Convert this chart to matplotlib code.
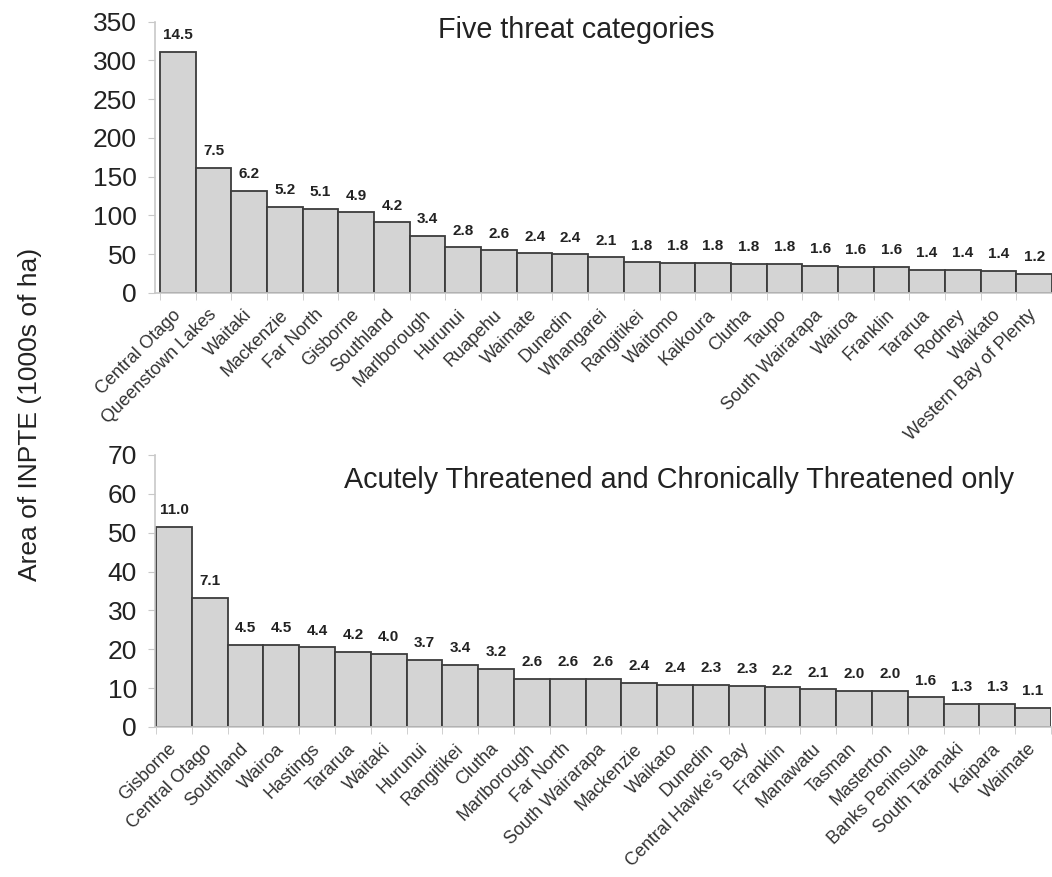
import matplotlib.pyplot as plt
import matplotlib.transforms as mtransforms
import numpy as np

# 字体：类 Arial
plt.rcParams['font.family'] = ['Liberation Sans', 'DejaVu Sans']

# 上图：五个威胁类别
top_names = ['Central Otago', 'Queenstown Lakes', 'Waitaki', 'Mackenzie', 'Far North',
             'Gisborne', 'Southland', 'Marlborough', 'Hurunui', 'Ruapehu', 'Waimate',
             'Dunedin', 'Whangarei', 'Rangitikei', 'Waitomo', 'Kaikoura', 'Clutha',
             'Taupo', 'South Wairarapa', 'Wairoa', 'Franklin', 'Tararua', 'Rodney',
             'Waikato', 'Western Bay of Plenty']
top_area = [311, 161, 132, 111, 109, 104, 91, 74, 59, 55, 51, 50, 46, 39.5, 38.5,
            38.5, 38, 38, 35, 34, 33.5, 30, 29.5, 28.5, 24.5]
top_pct = ['14.5', '7.5', '6.2', '5.2', '5.1', '4.9', '4.2', '3.4', '2.8', '2.6', '2.4',
           '2.4', '2.1', '1.8', '1.8', '1.8', '1.8', '1.8', '1.6', '1.6', '1.6', '1.4',
           '1.4', '1.4', '1.2']

# 下图：仅 Acutely / Chronically Threatened
bot_names = ['Gisborne', 'Central Otago', 'Southland', 'Wairoa', 'Hastings', 'Tararua',
             'Waitaki', 'Hurunui', 'Rangitikei', 'Clutha', 'Marlborough', 'Far North',
             'South Wairarapa', 'Mackenzie', 'Waikato', 'Dunedin', "Central Hawke's Bay",
             'Franklin', 'Manawatu', 'Tasman', 'Masterton', 'Banks Peninsula',
             'South Taranaki', 'Kaipara', 'Waimate']
bot_area = [51.5, 33.3, 21.1, 21.1, 20.5, 19.3, 18.8, 17.3, 15.9, 14.9, 12.3, 12.3, 12.3,
            11.3, 10.9, 10.8, 10.6, 10.2, 9.7, 9.3, 9.3, 7.6, 6.0, 5.9, 4.9]
bot_pct = ['11.0', '7.1', '4.5', '4.5', '4.4', '4.2', '4.0', '3.7', '3.4', '3.2', '2.6',
           '2.6', '2.6', '2.4', '2.4', '2.3', '2.3', '2.2', '2.1', '2.0', '2.0', '1.6',
           '1.3', '1.3', '1.1']

W, H = 1052, 877


def draw_panel(ax, names, area, pct, ymax, ystep, title, tx, ty, xleft):
    x = np.arange(len(names))
    ax.bar(x, area, width=1.0, color='#d4d4d4', edgecolor='#3c3c3c', linewidth=1.3,
           zorder=2)
    # 柱顶百分比
    for xi, v, s in zip(x, area, pct):
        ax.annotate(s, (xi, v), xytext=(0, 7), textcoords='offset points',
                    ha='center', va='bottom', fontsize=11, fontweight='bold',
                    color='#222222')
    ax.set_xlim(xleft, len(names) - 0.5)
    ax.set_ylim(0, ymax)
    ax.set_yticks(np.arange(0, ymax + 1, ystep))
    # 主刻度放标签，次刻度放在柱子之间
    ax.set_xticks(x)
    ax.set_xticklabels(names, rotation=45, ha='right', va='center',
                       rotation_mode='anchor', fontsize=13, color='#333333')
    # 标签整体右移一点
    shift = mtransforms.ScaledTranslation(0.08, 0, ax.figure.dpi_scale_trans)
    for lab in ax.get_xticklabels():
        lab.set_transform(lab.get_transform() + shift)
    ax.set_xticks(np.arange(len(names) + 1) - 0.5, minor=True)
    ax.tick_params(axis='x', which='major', length=0, pad=14)
    ax.tick_params(axis='x', which='minor', length=5, color='#c8c8c8')
    ax.tick_params(axis='y', length=5, color='#c8c8c8', labelsize=19,
                   labelcolor='#222222', pad=8)
    for sp in ['top', 'right']:
        ax.spines[sp].set_visible(False)
    for sp in ['left', 'bottom']:
        ax.spines[sp].set_color('#c8c8c8')
        ax.spines[sp].set_linewidth(1.2)
    ax.text(tx, ty, title, transform=ax.transAxes, ha='center', va='center',
            fontsize=20.7, color='#222222')


fig = plt.figure(figsize=(W / 100, H / 100), dpi=100)
ax1 = fig.add_axes([155 / W, 1 - 293 / H, 897 / W, 271.3 / H])
ax2 = fig.add_axes([155 / W, 1 - 727 / H, 896 / W, 272 / H])

draw_panel(ax1, top_names, top_area, top_pct, 350, 50, 'Five threat categories',
           0.470, 0.969, -0.64)
draw_panel(ax2, bot_names, bot_area, bot_pct, 70, 10,
           'Acutely Threatened and Chronically Threatened only', 0.585, 0.908, -0.53)

fig.text(30 / W, 1 - 414 / H, 'Area of INPTE (1000s of ha)', rotation=90,
         ha='center', va='center', fontsize=19, color='#222222')

fig.savefig('out.png', dpi=100)
